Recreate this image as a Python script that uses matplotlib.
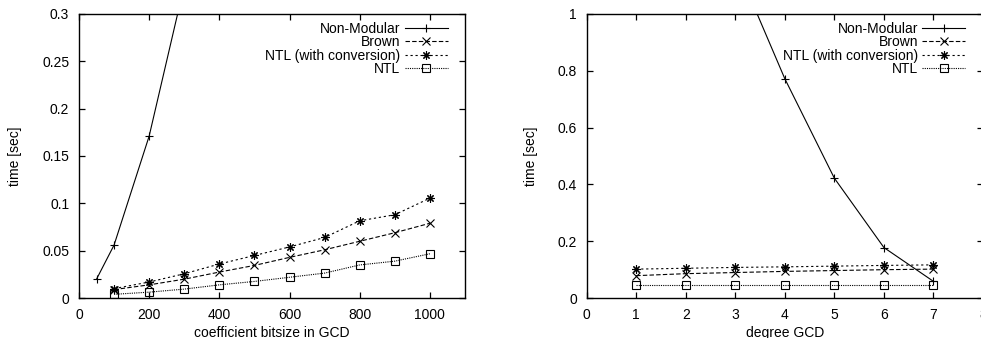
import matplotlib.pyplot as plt
import numpy as np

plt.rcParams['font.family'] = ['Liberation Sans', 'DejaVu Sans']
plt.rcParams['font.size'] = 10

# coefficient bitsize experiment
bits_nonmod = [50, 100, 200, 300, 400]
time_nonmod_bits = [0.020, 0.056, 0.171, 0.330, 0.580]
bits = [100, 200, 300, 400, 500, 600, 700, 800, 900, 1000]
time_brown_bits = [0.009, 0.014, 0.020, 0.0275, 0.0345, 0.043, 0.051, 0.060, 0.069, 0.079]
time_ntlconv_bits = [0.010, 0.017, 0.0257, 0.036, 0.045, 0.054, 0.064, 0.0816, 0.088, 0.1055]
time_ntl_bits = [0.004, 0.0063, 0.0095, 0.014, 0.0176, 0.022, 0.0264, 0.035, 0.039, 0.0468]

# GCD degree experiment
degree = [1, 2, 3, 4, 5, 6, 7]
degree_nonmod = [3, 4, 5, 6, 7]
time_nonmod_deg = [1.18, 0.772, 0.422, 0.178, 0.059]
time_brown_deg = [0.079, 0.086, 0.090, 0.094, 0.097, 0.100, 0.102]
time_ntlconv_deg = [0.102, 0.105, 0.108, 0.110, 0.1125, 0.115, 0.117]
time_ntl_deg = [0.0445, 0.0445, 0.0445, 0.0445, 0.0445, 0.0445, 0.0445]

labels = ['Non-Modular', 'Brown', 'NTL (with conversion)', 'NTL']

styles = [
    dict(ls='-', marker='+'),
    dict(ls=(0, (4, 2)), marker='x'),
    dict(ls=(0, (2, 2.5)), marker=(8, 2, 0)),
    dict(ls=(0, (1, 1)), marker='s', fillstyle='none'),
]


def draw(ax, series):
    for (x, y), lab, st in zip(series, labels, styles):
        ax.plot(x, y, color='black', lw=0.8, ms=6, mew=0.8, label=lab, **st)
    for s in ax.spines.values():
        s.set_linewidth(1.0)
    ax.tick_params(direction='in', top=True, right=True, length=4, width=0.9, pad=7)
    ax.set_ylabel('time [sec]')
    # gnuplot-style key: right-aligned text, sample on the right
    ax.legend(loc='upper right', bbox_to_anchor=(0.955, 0.973), markerfirst=False,
              frameon=False, handlelength=3.1, handletextpad=0.3, labelspacing=-0.03,
              borderpad=0, borderaxespad=0, fontsize=10)


fig = plt.figure(figsize=(9.81, 3.38), dpi=100)

ax1 = fig.add_axes([0.0805, 0.118, 0.3935, 0.841])
draw(ax1, [(bits_nonmod, time_nonmod_bits), (bits, time_brown_bits),
           (bits, time_ntlconv_bits), (bits, time_ntl_bits)])
ax1.set_xlim(0, 1100)
ax1.set_ylim(0, 0.3)
ax1.set_xticks(np.arange(0, 1001, 200))
ax1.set_yticks([0, 0.05, 0.1, 0.15, 0.2, 0.25, 0.3])
ax1.set_yticklabels(['0', '0.05', '0.1', '0.15', '0.2', '0.25', '0.3'])
ax1.set_xlabel('coefficient bitsize in GCD', labelpad=3)
ax1.yaxis.set_label_coords(-0.148, 0.5)

ax2 = fig.add_axes([0.598, 0.118, 0.404, 0.841])
draw(ax2, [(degree_nonmod, time_nonmod_deg), (degree, time_brown_deg),
           (degree, time_ntlconv_deg), (degree, time_ntl_deg)])
ax2.set_xlim(0, 8)
ax2.set_ylim(0, 1)
ax2.set_xticks(range(0, 9))
ax2.set_yticks([0, 0.2, 0.4, 0.6, 0.8, 1])
ax2.set_yticklabels(['0', '0.2', '0.4', '0.6', '0.8', '1'])
ax2.set_xlabel('degree GCD', labelpad=3)
ax2.yaxis.set_label_coords(-0.122, 0.5)

fig.savefig('out.png', dpi=100)
